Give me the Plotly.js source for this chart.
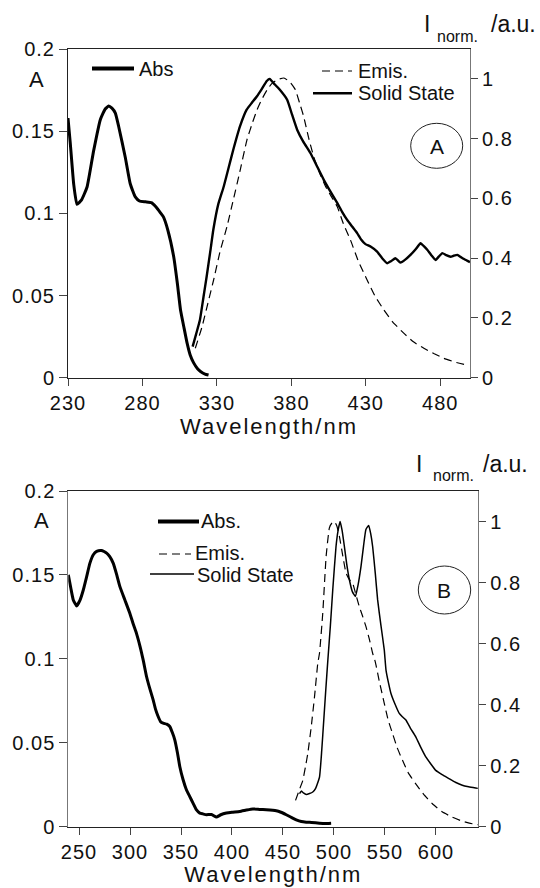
<!DOCTYPE html>
<html>
<head>
<meta charset="utf-8">
<script src="https://cdn.plot.ly/plotly-3.0.1.min.js"></script>
<style>
html,body{margin:0;padding:0;background:#fff;}
#chart{width:540px;height:888px;}
.xtick text, .x2tick text, .ytick text, .y2tick text, .y3tick text, .y4tick text { letter-spacing: 1px; }
.xtitle, .x2title { letter-spacing: 2px; }
</style>
</head>
<body>
<div id="chart"></div>
<script>
// ---------- Panel A data ----------
const absA_x = [230,231.5,233.8,236,239,242.8,247.2,251.7,255,257.3,259.5,261.8,264,268.5,271.8,275.2,278,282,286,289,292,294,297,301,303.5,305.6,308,310,312,314.4,317,319,322,324.4];
const absA_y = [0.158,0.143,0.118,0.1055,0.108,0.116,0.138,0.157,0.1635,0.1653,0.164,0.161,0.153,0.134,0.118,0.110,0.1075,0.107,0.1065,0.104,0.1005,0.098,0.090,0.0736,0.057,0.041,0.030,0.021,0.014,0.009,0.0055,0.0038,0.0022,0.0016];

const emiA_x = [315.5,320,324,327.8,332,336.8,341,345,350.2,354,357,360,363.7,367,371,375,379,382.7,385.5,388.3,391.5,395,399,403,407,410.8,415,419.7,425,430.9,436,442.1,448,455.5,462,469,476,482.4,490,498];
const emiA_y = [0.0985,0.17,0.25,0.327,0.42,0.506,0.595,0.68,0.796,0.855,0.897,0.93,0.963,0.985,0.998,1.003,0.99,0.964,0.92,0.874,0.805,0.74,0.685,0.64,0.605,0.573,0.515,0.461,0.39,0.327,0.275,0.227,0.187,0.149,0.12,0.0985,0.08,0.065,0.052,0.0425];

const solA_x = [313.7,316,318.6,321,323.1,325.5,327.6,330.9,334.6,338,341,345.5,350,353.5,356.8,360,363.5,365.5,368.2,372,377.2,380.5,383.9,388,392.8,397,401.8,406,410.8,414,417.5,421,424.2,427,429.8,433.2,437.6,441,444.4,447,449.9,453.3,456.5,460,463.5,466.8,469,471.3,474,476.9,479,481.4,484,487,489,491.5,494,496,498,500];
const solA_y = [0.104,0.145,0.193,0.27,0.338,0.42,0.495,0.58,0.64,0.705,0.763,0.841,0.897,0.92,0.941,0.965,0.993,1.0,0.985,0.965,0.93,0.88,0.83,0.79,0.752,0.71,0.662,0.625,0.585,0.556,0.528,0.505,0.484,0.462,0.447,0.439,0.422,0.40,0.383,0.39,0.40,0.385,0.395,0.411,0.43,0.45,0.44,0.428,0.41,0.394,0.405,0.417,0.41,0.405,0.408,0.411,0.403,0.397,0.392,0.387];

// ---------- Panel B data ----------
const absB_x = [239.5,242,244.4,247.7,251,254.2,257.5,260.7,264,267.3,272,277.1,280,283.5,287,290.1,295,299.9,303,306.4,310,312.9,316.2,319.5,322.7,325,327.6,330,332.5,336,339,341.5,343.9,346.5,348.8,352,355.3,358.5,361.8,365,368.4,371.5,374.9,380,384.7,389,394.5,400,407.5,414,420.5,427,433.6,443.4,448,453.2,458,463,468,472.8,478,485.8,491,497.2];
const absB_y = [0.150,0.142,0.135,0.1315,0.135,0.141,0.149,0.157,0.162,0.164,0.1645,0.163,0.161,0.157,0.150,0.143,0.135,0.127,0.121,0.115,0.107,0.0993,0.0894,0.082,0.0755,0.070,0.0656,0.0625,0.0616,0.061,0.0596,0.056,0.0517,0.044,0.0358,0.028,0.0219,0.018,0.0139,0.010,0.008,0.0075,0.007,0.0072,0.0056,0.007,0.008,0.0085,0.009,0.0098,0.0105,0.0102,0.010,0.0094,0.0085,0.007,0.0055,0.004,0.003,0.0026,0.0024,0.002,0.0018,0.002];

const emiB_x = [462.3,466,469.4,472,474.3,477.7,480.9,484.1,485.8,489,492.3,495.5,498,500.4,502.8,505.3,508.5,511.8,515,518.3,521.5,524.8,528,531.3,534.6,537.9,540.5,544.5,549.3,553,557.4,562,567.2,573,580.2,588,596.5,606,616.1,626,635.6,641];
const emiB_y = [0.0855,0.12,0.151,0.195,0.239,0.327,0.425,0.535,0.568,0.70,0.886,0.979,0.995,1.0,0.985,0.951,0.89,0.831,0.81,0.798,0.76,0.721,0.69,0.656,0.615,0.568,0.54,0.475,0.404,0.35,0.305,0.258,0.217,0.175,0.140,0.105,0.0747,0.048,0.0306,0.017,0.009,0.006];

const solB_x = [466.2,467.9,470,472.8,476,479.2,482,485.8,488,490,492,494,496.5,498.8,502,504,506,508,510.2,512.5,515.1,518,521,523.5,526.5,529,531.3,534,536,537.9,540.5,542.8,546,549.3,551,553.5,555.8,560,564,567,570.5,575,580.2,585,590,595,599.8,606,612.8,619,625.8,632,638.9,641];
const solB_y = [0.1076,0.116,0.11,0.105,0.108,0.113,0.125,0.162,0.25,0.35,0.45,0.546,0.66,0.776,0.918,0.97,1.0,0.97,0.918,0.86,0.809,0.77,0.754,0.79,0.853,0.92,0.974,0.987,0.96,0.918,0.83,0.743,0.66,0.579,0.513,0.47,0.437,0.40,0.371,0.36,0.349,0.322,0.294,0.26,0.228,0.205,0.184,0.17,0.157,0.145,0.135,0.13,0.126,0.125];

// ---------- helpers (pixel -> paper) ----------
const W = 540, H = 888;
const px = v => v / W;
const py = v => 1 - v / H;
const FONT = 'Liberation Sans, Arial, sans-serif';
const TXT = '#111';

const sm = 0.4;
const traces = [
  {x: absA_x, y: absA_y, xaxis:'x', yaxis:'y', mode:'lines', name:'Abs', line:{color:'#000', width:3, shape:'spline', smoothing:sm}},
  {x: emiA_x, y: emiA_y, xaxis:'x', yaxis:'y2', mode:'lines', name:'Emis.', line:{color:'#000', width:1.2, dash:'8px,5px', shape:'spline', smoothing:sm}},
  {x: solA_x, y: solA_y, xaxis:'x', yaxis:'y2', mode:'lines', name:'Solid State', line:{color:'#000', width:2.4, shape:'spline', smoothing:sm}},
  {x: absB_x, y: absB_y, xaxis:'x2', yaxis:'y3', mode:'lines', name:'Abs.', line:{color:'#000', width:3, shape:'spline', smoothing:sm}},
  {x: emiB_x, y: emiB_y, xaxis:'x2', yaxis:'y4', mode:'lines', name:'Emis.', line:{color:'#000', width:1.2, dash:'8px,5px', shape:'spline', smoothing:sm}},
  {x: solB_x, y: solB_y, xaxis:'x2', yaxis:'y4', mode:'lines', name:'Solid State', line:{color:'#000', width:1.5, shape:'spline', smoothing:sm}}
];

const tickFont = {family: FONT, size: 20, color: TXT};
const baseAxis = {showgrid:false, zeroline:false, showline:true, ticks:'outside', tickwidth:1, tickfont: tickFont, fixedrange:true};

const layout = {
  width: W, height: H,
  margin: {l:0, r:0, t:0, b:0},
  paper_bgcolor:'#fff', plot_bgcolor:'#fff',
  showlegend: false,
  font: {family: FONT, color: TXT},
  xaxis: Object.assign({}, baseAxis, {
    domain:[px(68), px(470)], anchor:'y', range:[230,500], tick0:230, dtick:50,
    ticklen:7, linecolor:'#222', mirror:true,
    title:{text:'Wavelength/nm', font:{family:FONT, size:22, color:TXT}, standoff:2}
  }),
  yaxis: Object.assign({}, baseAxis, {
    domain:[py(377.7), py(49)], anchor:'x', range:[0,0.2], dtick:0.05, ticklen:8, linecolor:'#222'
  }),
  yaxis2: Object.assign({}, baseAxis, {
    overlaying:'y', side:'right', anchor:'x', range:[0,1.1], dtick:0.2, ticklen:7, linecolor:'#777'
  }),
  xaxis2: Object.assign({}, baseAxis, {
    domain:[px(68.3), px(478.3)], anchor:'y3', range:[239.5,641.5], tick0:250, dtick:50,
    ticklen:7, linecolor:'#222', mirror:true,
    title:{text:'Wavelength/nm', font:{family:FONT, size:22, color:TXT}, standoff:4}
  }),
  yaxis3: Object.assign({}, baseAxis, {
    domain:[py(826.5), py(491)], anchor:'x2', range:[0,0.2], dtick:0.05, ticklen:8, linecolor:'#777'
  }),
  yaxis4: Object.assign({}, baseAxis, {
    overlaying:'y3', side:'right', anchor:'x2', range:[0,1.1], dtick:0.2, ticklen:7, linecolor:'#777'
  }),
  shapes: [
    {type:'circle', xref:'paper', yref:'paper', x0:px(410.7), x1:px(462.7), y0:py(168.3), y1:py(123.3), line:{color:'#222', width:1}},
    {type:'circle', xref:'paper', yref:'paper', x0:px(418.3), x1:px(470.7), y0:py(614), y1:py(566), line:{color:'#222', width:1}},
    {type:'line', xref:'paper', yref:'paper', x0:px(92), x1:px(134), y0:py(68.5), y1:py(68.5), line:{color:'#000', width:4}},
    {type:'line', xref:'paper', yref:'paper', x0:px(322), x1:px(352), y0:py(71), y1:py(71), line:{color:'#000', width:1.2, dash:'8px,5px'}},
    {type:'line', xref:'paper', yref:'paper', x0:px(313), x1:px(352), y0:py(93.3), y1:py(93.3), line:{color:'#000', width:2.4}},
    {type:'line', xref:'paper', yref:'paper', x0:px(158), x1:px(199), y0:py(521.5), y1:py(521.5), line:{color:'#000', width:4}},
    {type:'line', xref:'paper', yref:'paper', x0:px(159), x1:px(191), y0:py(554), y1:py(554), line:{color:'#000', width:1.2, dash:'8px,5px'}},
    {type:'line', xref:'paper', yref:'paper', x0:px(150), x1:px(194), y0:py(574), y1:py(574), line:{color:'#000', width:1.5}}
  ],
  annotations: [
    {text:'A', xref:'paper', yref:'paper', x:px(36), y:py(79.5), xanchor:'center', yanchor:'middle', showarrow:false, font:{family:FONT, size:22, color:TXT}},
    {text:'A', xref:'paper', yref:'paper', x:px(41), y:py(520), xanchor:'center', yanchor:'middle', showarrow:false, font:{family:FONT, size:22, color:TXT}},
    {text:'I', xref:'paper', yref:'paper', x:px(427), y:py(24), xanchor:'center', yanchor:'middle', showarrow:false, font:{family:FONT, size:23, color:TXT}},
    {text:'norm.', xref:'paper', yref:'paper', x:px(457.5), y:py(36), xanchor:'center', yanchor:'middle', showarrow:false, font:{family:FONT, size:16, color:TXT}},
    {text:'/a.u.', xref:'paper', yref:'paper', x:px(513), y:py(24), xanchor:'center', yanchor:'middle', showarrow:false, font:{family:FONT, size:23, color:TXT}},
    {text:'I', xref:'paper', yref:'paper', x:px(418.5), y:py(464), xanchor:'center', yanchor:'middle', showarrow:false, font:{family:FONT, size:23, color:TXT}},
    {text:'norm.', xref:'paper', yref:'paper', x:px(453), y:py(476), xanchor:'center', yanchor:'middle', showarrow:false, font:{family:FONT, size:16, color:TXT}},
    {text:'/a.u.', xref:'paper', yref:'paper', x:px(505), y:py(464), xanchor:'center', yanchor:'middle', showarrow:false, font:{family:FONT, size:23, color:TXT}},
    {text:'A', xref:'paper', yref:'paper', x:px(437), y:py(146), xanchor:'center', yanchor:'middle', showarrow:false, font:{family:FONT, size:21, color:TXT}},
    {text:'B', xref:'paper', yref:'paper', x:px(444), y:py(590), xanchor:'center', yanchor:'middle', showarrow:false, font:{family:FONT, size:21, color:TXT}},
    {text:'Abs', xref:'paper', yref:'paper', x:px(137), y:py(69), xanchor:'left', yanchor:'middle', showarrow:false, font:{family:FONT, size:20, color:TXT}},
    {text:'Emis.', xref:'paper', yref:'paper', x:px(356), y:py(71), xanchor:'left', yanchor:'middle', showarrow:false, font:{family:FONT, size:20, color:TXT}},
    {text:'Solid State', xref:'paper', yref:'paper', x:px(356), y:py(93), xanchor:'left', yanchor:'middle', showarrow:false, font:{family:FONT, size:20, color:TXT}},
    {text:'Abs.', xref:'paper', yref:'paper', x:px(199), y:py(521), xanchor:'left', yanchor:'middle', showarrow:false, font:{family:FONT, size:20, color:TXT}},
    {text:'Emis.', xref:'paper', yref:'paper', x:px(193), y:py(553), xanchor:'left', yanchor:'middle', showarrow:false, font:{family:FONT, size:20, color:TXT}},
    {text:'Solid State', xref:'paper', yref:'paper', x:px(195), y:py(575), xanchor:'left', yanchor:'middle', showarrow:false, font:{family:FONT, size:20, color:TXT}}
  ]
};

Plotly.newPlot('chart', traces, layout, {staticPlot:true, displayModeBar:false});
</script>
</body>
</html>
